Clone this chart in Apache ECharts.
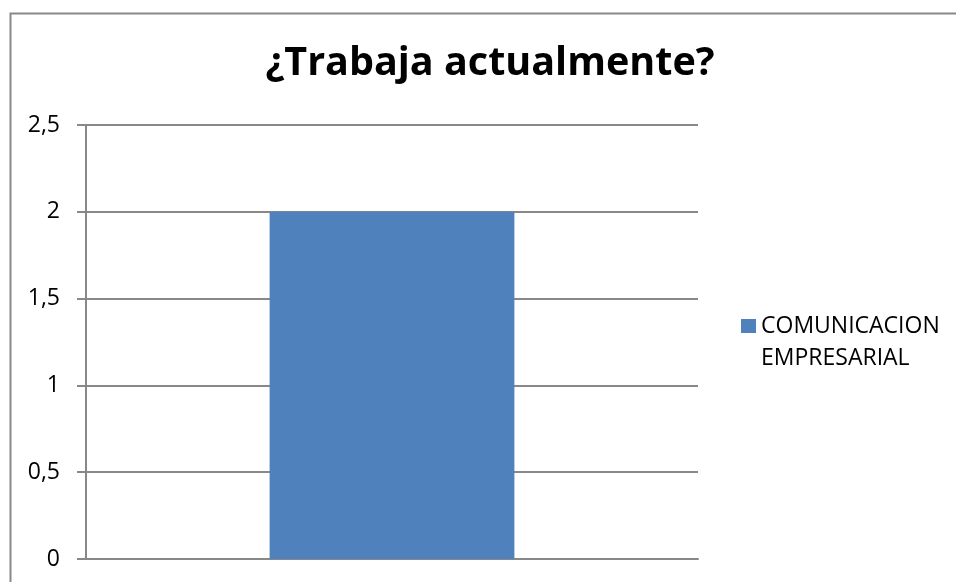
<!DOCTYPE html>
<html><head><meta charset="utf-8">
<script src="https://cdn.jsdelivr.net/npm/echarts@6/dist/echarts.min.js"></script>
<style>html,body{margin:0;padding:0;background:#fff}#c{width:956px;height:582px}</style>
</head><body><div id="c"></div>
<script>
const categories = [''];
const seriesName = 'COMUNICACION\nEMPRESARIAL';
const values = [2];
const titleText = '¿Trabaja actualmente?';

const chart = echarts.init(document.getElementById('c'), null, {renderer: 'canvas'});
chart.setOption({
  animation: false,
  backgroundColor: '#fff',
  title: {
    text: titleText, left: 490, top: 44, textAlign: 'center', padding: 0,
    textStyle: {fontFamily: 'Open Sans', fontWeight: 'bold', fontSize: 39.5, color: '#000'}
  },
  legend: {
    left: 741, top: 278, padding: 0, itemWidth: 15, itemHeight: 14,
    icon: 'rect',
    formatter: name => ' \n' + name,
    textStyle: {fontFamily: 'Open Sans', fontSize: 23, color: '#000', lineHeight: 32},
    data: [seriesName]
  },
  graphic: [{
    type: 'rect', shape: {x: 10.5, y: 13.5, width: 960, height: 600},
    style: {fill: 'none', stroke: '#888', lineWidth: 2}, silent: true
  }],
  grid: {left: 86, right: 258, top: 125, bottom: 23, containLabel: false},
  xAxis: {
    type: 'category', data: categories,
    axisLine: {lineStyle: {color: '#888', width: 2}},
    axisTick: {show: false}, axisLabel: {show: false}
  },
  yAxis: {
    type: 'value', min: 0, max: 2.5, interval: 0.5,
    axisLine: {show: true, lineStyle: {color: '#888', width: 2}},
    axisTick: {show: true, length: 9, lineStyle: {color: '#888', width: 2}},
    splitLine: {lineStyle: {color: '#888', width: 2}},
    axisLabel: {
      fontFamily: 'Open Sans', fontSize: 23, color: '#000', margin: 26,
      formatter: v => String(v).replace('.', ',')
    }
  },
  series: [{
    type: 'bar', name: seriesName, data: values, barWidth: '40%',
    itemStyle: {color: '#4f81bd'}
  }]
});
</script></body></html>
